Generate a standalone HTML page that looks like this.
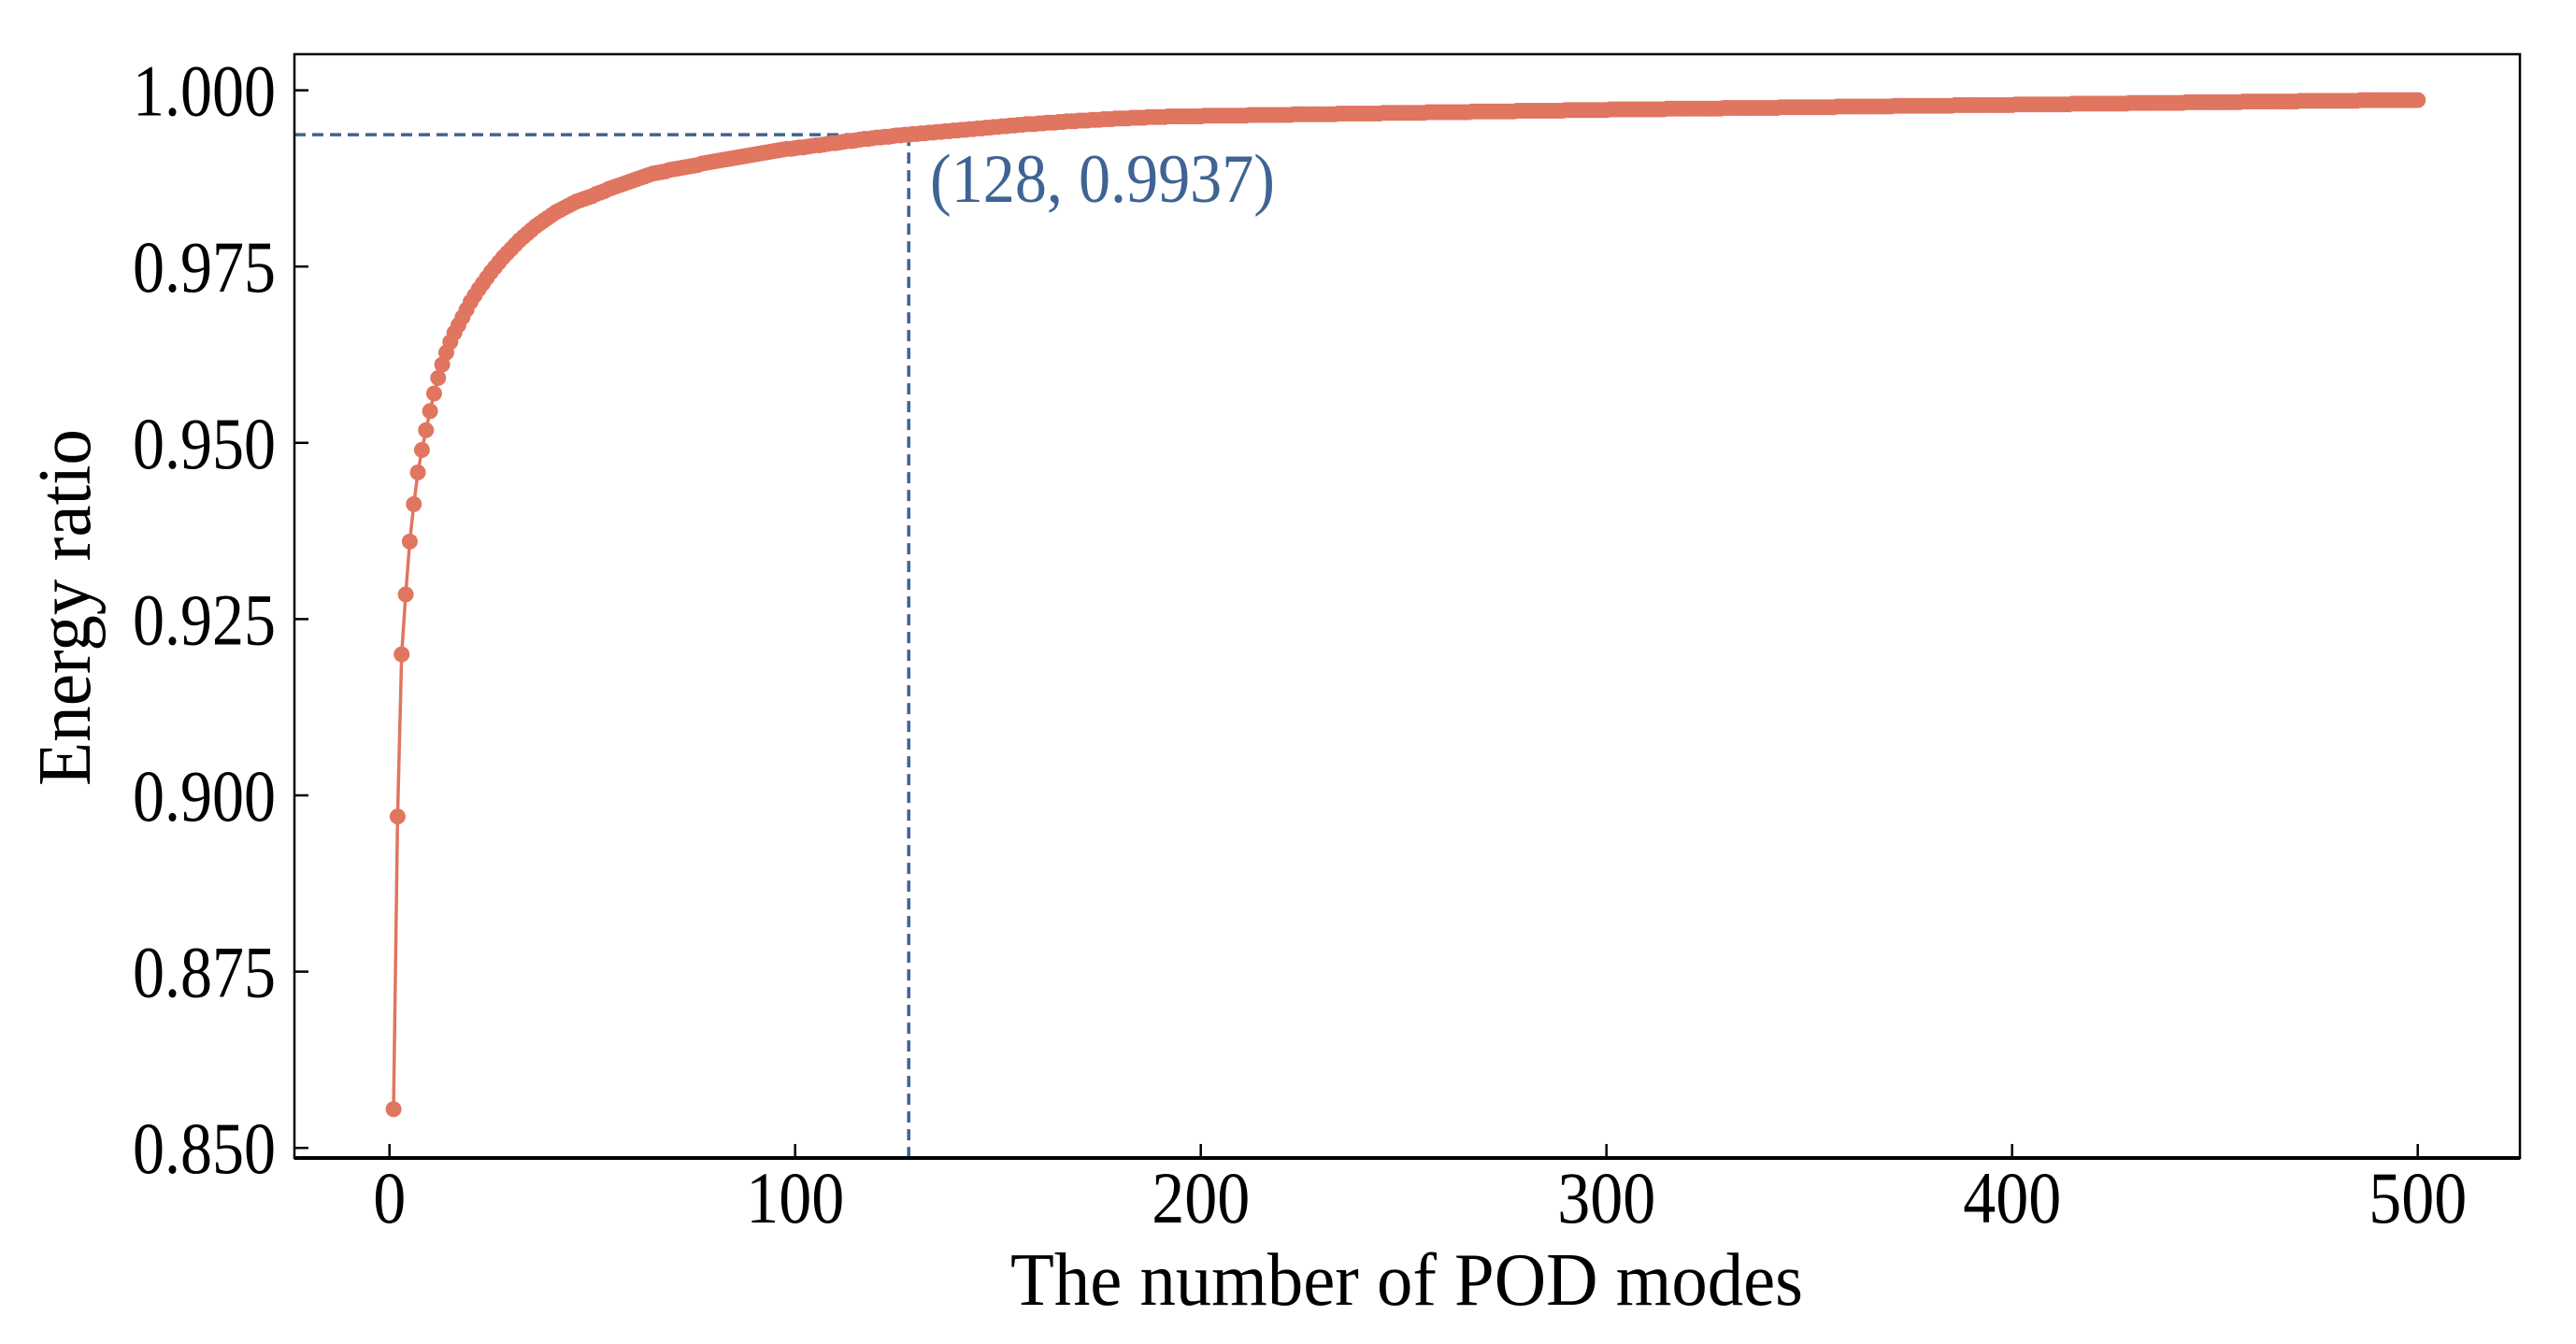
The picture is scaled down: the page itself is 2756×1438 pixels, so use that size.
<!DOCTYPE html>
<html><head><meta charset="utf-8"><style>
html,body{margin:0;padding:0;background:#fff;}
svg{display:block;}
text{font-family:"Liberation Serif",serif;}
</style></head><body>
<svg id="chart" width="2756" height="1438" viewBox="0 0 2756 1438" xmlns="http://www.w3.org/2000/svg">
<rect x="0" y="0" width="2756" height="1438" fill="#fff"/>
<g id="marks"></g>
<g id="axes"></g>
</svg>
<script>
// 1 - energy ratio, in units of 1e-4, for modes 1..500
const residual = [
1445,1030,800,715,640,587,542,510,482,455,430,408,389,372,357,344,333,322,311,300,
291,282,274,266,258,251,244,237,231,225,219,213,208,
203,198,193,189,185,181,177,173,170,167,164,161,158,156,154,152,150,
147,145,143,140,138,136,134,132,130,128,126,124,122,120,118,
117,116,115,113,112,111,110,109,108,107,106,104,103,102,101,100,99,98,97,96,95,94,93,92,91,90,89,88,87,86,85,84,
83,83,82,81,81,80,79,78,78,77,76,75,75,74,73,72,72,71,70,69,69,68,67,67,66,66,65,64,64,63,63,
62,62,61,61,60,60,59,59,58,58,57,57,
56,56,55,55,54,54,53,53,52,52,51,51,50,50,49,49,48,48,48,47,
47,46,46,46,45,45,44,44,44,43,43,43,42,42,42,41,41,41,40,40,
40,40,39,39,39,39,38,38,38,38,38,37,37,37,37,37,37,37,37,37,
36,36,36,36,36,36,36,36,36,36,36,35,35,35,35,35,35,35,35,35,35,35,
34,34,34,34,34,34,34,34,34,34,34,33,33,33,33,33,33,33,33,33,33,33,
32,32,32,32,32,32,32,32,32,32,32,31,31,31,31,31,31,31,31,31,31,31,
30,30,30,30,30,30,30,30,30,30,30,29,29,29,29,29,29,29,29,29,29,29,29,
28,28,28,28,28,28,28,28,28,28,28,
27,27,27,27,27,27,27,27,27,27,27,27,27,27,26,26,26,26,26,26,26,26,26,26,26,26,26,26,
25,25,25,25,25,25,25,25,25,25,25,25,25,25,24,24,24,24,24,24,24,24,24,24,24,24,24,24,
23,23,23,23,23,23,23,23,23,23,23,23,23,23,22,22,22,22,22,22,22,22,22,22,22,22,22,22,22,
21,21,21,21,21,21,21,21,21,21,21,21,21,21,21,
20,20,20,20,20,20,20,20,20,20,20,20,20,20,19,19,19,19,19,19,19,19,19,19,19,19,19,19,
18,18,18,18,18,18,18,18,18,18,18,18,18,18,17,17,17,17,17,17,17,17,17,17,17,17,17,17,
16,16,16,16,16,16,16,16,16,16,16,16,16,16,15,15,15,15,15,15,15,15,15,15,15,15,15,15,15,
14,14,14,14,14,14,14,14,14,14,14,14,14,14,14
];
const xTicks = [0,100,200,300,400,500];
const yTicks = [0.850,0.875,0.900,0.925,0.950,0.975,1.000];
const markerX = [128];
const markerY = [0.9937];
const annotationLabel = ["(128, 0.9937)"];

const NS = "http://www.w3.org/2000/svg";
const L = 315, R = 2696, T = 58, B = 1239;
function xs(n){ return 416.7 + n * 4.34; }
function ys(v){ return 96.6 + (1 - v) / 0.025 * 188.6; }
function mk(tag, attrs, parent){
  const e = document.createElementNS(NS, tag);
  for (const k in attrs) e.setAttribute(k, attrs[k]);
  parent.appendChild(e);
  return e;
}
const marks = document.getElementById('marks');
const axes = document.getElementById('axes');
const values = residual.map(r => 1 - r / 10000);

const hx = mk('line', {x1: L, y1: ys(markerY[0]), x2: xs(markerX[0]), y2: ys(markerY[0]), stroke: '#3f6493', 'stroke-width': 3.5, 'stroke-dasharray': '12 7'}, marks);


const vx = mk('line', {x1: xs(markerX[0]), y1: ys(markerY[0]), x2: xs(markerX[0]), y2: B, stroke: '#3f6493', 'stroke-width': 3.5, 'stroke-dasharray': '12 7'}, marks);



let d = '';
values.forEach((v, i) => { d += (i ? 'L' : 'M') + xs(i + 1).toFixed(2) + ' ' + ys(v).toFixed(2); });
const line = mk('path', {d: d, fill: 'none', stroke: '#e07560', 'stroke-width': 3.5}, marks);


const pts = mk('g', {fill: '#e07560'}, marks);


values.forEach((v, i) => {
  const c = mk('circle', {cx: xs(i + 1).toFixed(2), cy: ys(v).toFixed(2), r: 8.5}, pts);
  
  
});

const ann = mk('text', {x: 995, y: 216, 'font-size': 74, fill: '#3f6493', textLength: 369, lengthAdjust: 'spacingAndGlyphs'}, marks);
ann.textContent = annotationLabel[0];



const fr = mk('rect', {x: L, y: T, width: R - L, height: B - T, fill: 'none', stroke: '#000', 'stroke-width': 2.5}, axes);


const bx = mk('line', {x1: L, y1: B, x2: R, y2: B, stroke: '#000', 'stroke-width': 4}, axes);



xTicks.forEach(t => {
  const tk = mk('line', {x1: xs(t), y1: B, x2: xs(t), y2: B - 15, stroke: '#000', 'stroke-width': 2.5}, axes);
  
  
  const s = String(t);
  const lb = mk('text', {x: xs(t), y: 1308, 'font-size': 78, 'text-anchor': 'middle', textLength: s.length * 35, lengthAdjust: 'spacingAndGlyphs'}, axes);
  lb.textContent = s;
  
  
});
yTicks.forEach(t => {
  const tk = mk('line', {x1: L, y1: ys(t), x2: L + 15, y2: ys(t), stroke: '#000', 'stroke-width': 2.5}, axes);
  
  
  const lb = mk('text', {x: 295, y: ys(t) + 27, 'font-size': 78, 'text-anchor': 'end', textLength: 153, lengthAdjust: 'spacingAndGlyphs'}, axes);
  lb.textContent = t.toFixed(3);
  
  
});

const xt = mk('text', {x: 1505, y: 1396, 'font-size': 80, 'text-anchor': 'middle', textLength: 848, lengthAdjust: 'spacingAndGlyphs'}, axes);
xt.textContent = 'The number of POD modes';


const yt = mk('text', {x: 0, y: 0, 'font-size': 80, 'text-anchor': 'middle', textLength: 382, lengthAdjust: 'spacingAndGlyphs', transform: 'translate(96,650) rotate(-90)'}, axes);
yt.textContent = 'Energy ratio';


</script>
</body></html>
